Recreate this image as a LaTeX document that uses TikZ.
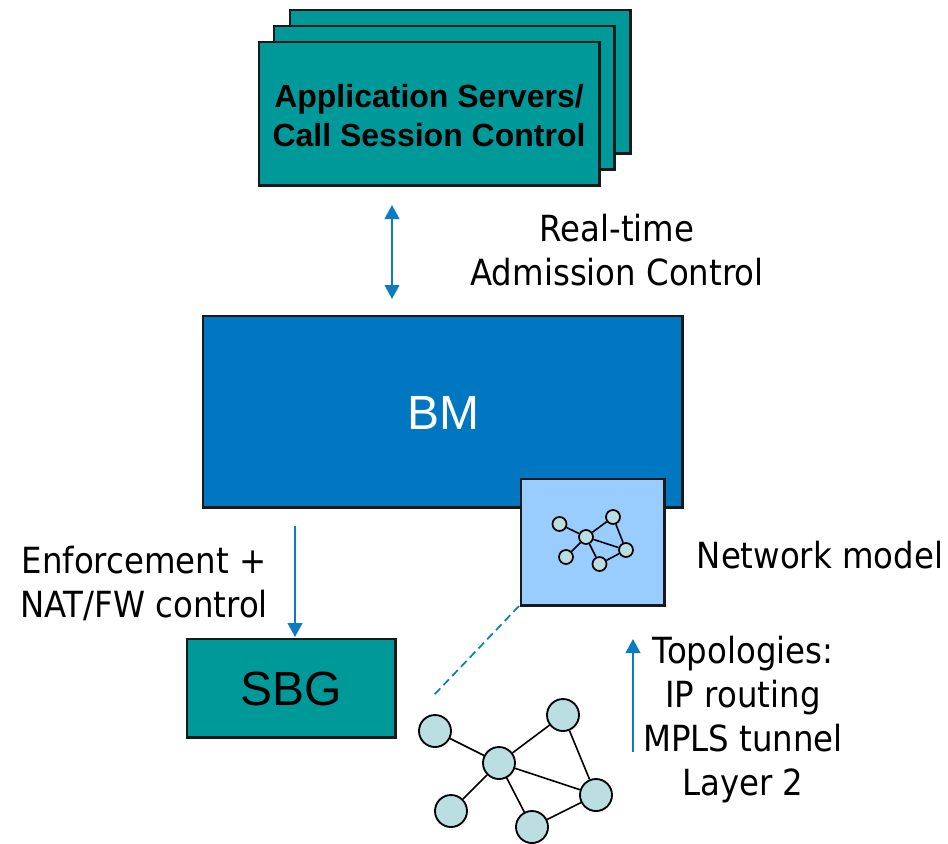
\documentclass[tikz,border=0pt]{standalone}
\usepackage{fontspec}
\setmainfont[FakeStretch=0.9]{DejaVu Sans}
\newfontfamily\boldsans{Liberation Sans}
\usetikzlibrary{arrows.meta}
\definecolor{tealbox}{HTML}{009999}
\definecolor{bmblue}{HTML}{0077C0}
\definecolor{lightb}{HTML}{99CCFF}
\definecolor{netn}{HTML}{BBDFE1}
\definecolor{arrowb}{HTML}{0B7CC4}
\tikzset{
  x=0.75pt,y=-0.75pt,
  box/.style={draw=black!90,line width=1.6pt,fill=#1,inner sep=0pt,outer sep=0pt,anchor=north west},
  lbl/.style={text=black,font=\fontsize{27}{33}\selectfont,align=center,inner sep=0pt},
  flow/.style={draw=arrowb,line width=1.5pt,-{Triangle[length=10.5pt,width=11pt]}},
  flowboth/.style={draw=arrowb,line width=1.5pt,{Triangle[length=10.5pt,width=11pt]}-{Triangle[length=10.5pt,width=11pt]}},
  bign/.style={circle,draw=black,line width=1.4pt,fill=netn,minimum size=24pt,inner sep=0pt},
  smalln/.style={circle,draw=black,line width=1.3pt,fill=netn,minimum size=10.5pt,inner sep=0pt},
  bigl/.style={line width=1.2pt,draw=black},
  smalll/.style={line width=1.2pt,draw=black},
}
\newcommand{\boxat}[6]{\node[box=#6,minimum width=#4*0.75pt,minimum height=#5*0.75pt] (#1) at (#2,#3) {};}
\begin{document}
\begin{tikzpicture}
\useasboundingbox (0,0) rectangle (948,843);
\boxat{asc}{290}{10}{340.5}{143.5}{tealbox}
\boxat{asb}{274}{26}{340.5}{143.5}{tealbox}
\boxat{asa}{259}{42}{340.5}{143.5}{tealbox}
\node[inner sep=0pt,align=center,text=black,font=\boldsans\bfseries\fontsize{24}{29}\selectfont] (astext) at (429,115.5) {Application Servers/\\Call Session Control};
\node[lbl] (rt) at (617,250) {Real-time\\Admission Control};
\boxat{bm}{203}{316}{479.5}{191.5}{bmblue}
\node[text=white,inner sep=0pt,font=\boldsans\fontsize{36}{40}\selectfont] (bmt) at (443,413) {BM};
\boxat{nm}{521}{479}{143.5}{126.5}{lightb}
\boxat{sbg}{187}{639}{208.5}{98.5}{tealbox}
\node[text=black,inner sep=0pt,font=\boldsans\fontsize{36}{40}\selectfont] (sbgt) at (291,689) {SBG};
\node[lbl] (enf) at (144,583) {Enforcement +\\NAT/FW control};
\node[lbl] (nml) at (820,555) {Network model};
\node[lbl] (top) at (743,720) {Topologies:\\IP routing\\MPLS tunnel\\Layer 2};
% arrows
\coordinate (a1) at (392,205); \coordinate (a2) at (392,299);
\draw[flowboth] (a1) -- (a2);
\coordinate (e1) at (295,526); \coordinate (e2) at (295,637);
\draw[flow] (e1) -- (e2);
\coordinate (t1) at (633,752); \coordinate (t2) at (633,639);
\draw[flow] (t1) -- (t2);
\coordinate (d1) at (519,606); \coordinate (d2) at (434,695);
\draw[draw=arrowb,line width=1.3pt,dash pattern=on 6pt off 3.5pt] (d1) -- (d2);
% small network
\node[smalln] (s1) at (559.5,524) {};
\node[smalln] (s2) at (613,517) {};
\node[smalln] (s3) at (586,537) {};
\node[smalln] (s4) at (626,550) {};
\node[smalln] (s5) at (599.5,564) {};
\node[smalln] (s6) at (566,557) {};
\foreach \p/\q in {s1/s3,s2/s3,s3/s4,s3/s5,s3/s6,s2/s4,s4/s5} \draw[smalll] (\p) -- (\q);
% big network
\node[bign] (b1) at (435,731) {};
\node[bign] (b2) at (563,715) {};
\node[bign] (b3) at (499,763) {};
\node[bign] (b4) at (596,795) {};
\node[bign] (b5) at (532,827) {};
\node[bign] (b6) at (451,811) {};
\foreach \p/\q in {b1/b3,b2/b3,b3/b4,b3/b5,b3/b6,b2/b4,b4/b5} \draw[bigl] (\p) -- (\q);
\end{tikzpicture}
\end{document}
